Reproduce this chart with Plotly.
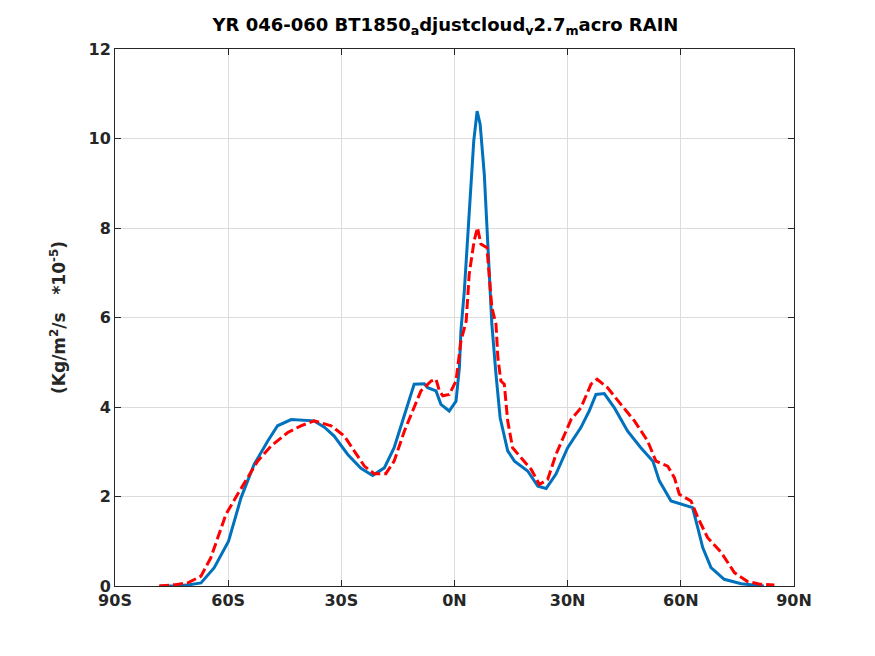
"""Zonal mean RAIN: YR 046-060 BT1850 adjustcloud v2.7 macro."""
import plotly.graph_objects as go

# blue (solid) curve
lat_blue = [-78.0, -75.0, -71.0, -67.2, -63.7, -59.9, -56.6, -53.1, -49.5, -46.9,
            -43.3, -40.0, -37.2, -34.5, -31.9, -28.3, -24.8, -21.7, -18.6, -16.0,
            -13.3, -10.7, -8.0, -7.1, -4.9, -3.6, -1.4, 0.4, 1.3, 1.7, 2.6, 3.7,
            4.4, 5.1, 6.0, 6.8, 7.9, 8.6, 9.2, 9.9, 11.0, 12.1, 14.1, 15.9, 19.4,
            22.1, 24.3, 26.9, 30.0, 33.5, 35.7, 37.5, 39.7, 42.4, 45.9, 49.4,
            52.6, 54.3, 57.4, 60.0, 63.1, 64.5, 65.8, 68.0, 71.5, 76.0, 79.5, 82.0]
rain_blue = [0.0, 0.0, 0.02, 0.07, 0.41, 1.0, 1.97, 2.72, 3.24, 3.58,
             3.72, 3.70, 3.69, 3.55, 3.35, 2.94, 2.63, 2.47, 2.64, 3.09,
             3.84, 4.51, 4.52, 4.43, 4.36, 4.06, 3.91, 4.13, 4.88, 5.70, 6.59, 8.08,
             9.20, 9.94, 10.61, 10.32, 9.20, 8.08, 6.97, 5.85, 4.73, 3.76, 3.02, 2.79, 2.57,
             2.23, 2.18, 2.50, 3.09, 3.54, 3.91, 4.28, 4.30, 3.98, 3.46, 3.09,
             2.79, 2.35, 1.90, 1.83, 1.75, 1.30, 0.86, 0.41, 0.15, 0.05, 0.02, 0.0]

# red (dashed) curve
lat_red = [-78.3, -74.0, -70.7, -67.2, -64.6, -62.8, -60.6, -57.5, -54.8, -52.2,
           -48.6, -44.2, -40.7, -37.2, -32.7, -29.2, -26.6, -23.9, -21.3, -18.2,
           -16.0, -13.3, -11.1, -8.9, -6.2, -4.9, -4.0, -3.1, -1.4, 0.4, 1.7, 3.1,
           3.9, 5.2, 6.1, 7.0, 8.6, 9.2, 9.9, 11.0, 11.5, 12.3, 13.2, 14.1, 15.4,
           17.6, 20.3, 22.5, 24.7, 26.9, 29.1, 30.9, 33.5, 36.2, 37.8, 40.6, 44.1,
           47.7, 51.2, 53.4, 56.5, 58.3, 59.6, 62.7, 64.5, 67.1, 70.7, 74.2, 77.7,
           81.0, 84.8]
rain_red = [0.0, 0.03, 0.07, 0.22, 0.63, 1.08, 1.60, 2.05, 2.42, 2.79,
            3.13, 3.43, 3.58, 3.69, 3.58, 3.35, 3.02, 2.68, 2.51, 2.51,
            2.79, 3.46, 3.91, 4.36, 4.58, 4.62, 4.36, 4.25, 4.28, 4.58, 5.47, 5.92,
            6.97, 7.71, 8.01, 7.64, 7.56, 6.97, 6.22, 5.85, 5.10, 4.58, 4.51, 3.69, 3.09,
            2.87, 2.61, 2.27, 2.38, 2.94, 3.39, 3.72, 3.98, 4.51, 4.62, 4.43, 4.06,
            3.69, 3.24, 2.79, 2.68, 2.42, 2.05, 1.90, 1.53, 1.08, 0.75, 0.30, 0.10,
            0.04, 0.02]

x_ticks = [-90, -60, -30, 0, 30, 60, 90]
x_labels = ["90S", "60S", "30S", "0N", "30N", "60N", "90N"]

fig = go.Figure()
fig.add_trace(go.Scatter(x=lat_blue, y=rain_blue, mode="lines",
                         line=dict(color="#0072BD", width=3)))
fig.add_trace(go.Scatter(x=lat_red, y=rain_red, mode="lines",
                         line=dict(color="#FF0000", width=3, dash="10px,4px")))

axis_common = dict(
    showline=True, linecolor="#262626", linewidth=1, mirror="ticks",
    ticks="inside", ticklen=6, tickcolor="#262626",
    showgrid=True, gridcolor="#DCDCDC", gridwidth=1, zeroline=False,
    tickfont=dict(family="DejaVu Sans", size=16, color="#262626", weight="bold"),
)

# page puts the figure ~7px in from the top-left, margins compensate
fig.update_layout(
    width=875, height=656,
    paper_bgcolor="white", plot_bgcolor="white",
    showlegend=False,
    margin=dict(l=107, r=89, t=41, b=78),
    font=dict(family="DejaVu Sans", color="#262626"),
    title=dict(
        text="<b>YR 046-060 BT1850<sub>a</sub>djustcloud<sub>v</sub>2.7<sub>m</sub>acro RAIN</b>",
        x=0.5, xanchor="center", y=0.984, yanchor="top",
        font=dict(family="DejaVu Sans", size=18, color="black"),
    ),
    xaxis=dict(range=[-90, 90], tickvals=x_ticks, ticktext=x_labels, **axis_common),
    yaxis=dict(
        range=[0, 12], dtick=2,
        title=dict(text="<b>(Kg/m<sup>2</sup>/s   *10<sup>-5</sup>)</b>",
                   font=dict(family="DejaVu Sans", size=17, color="#262626"),
                   standoff=18),
        **axis_common,
    ),
)

fig.write_html("out.html")
